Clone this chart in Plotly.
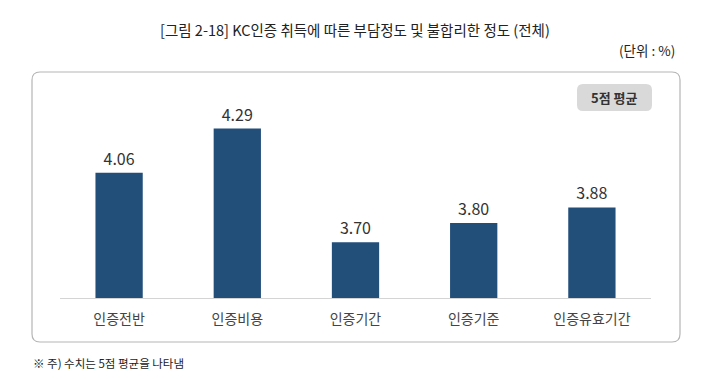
import plotly.graph_objects as go

categories = ["인증전반", "인증비용", "인증기간", "인증기준", "인증유효기간"]
values = [4.06, 4.29, 3.70, 3.80, 3.88]

# page body has an 8px margin; work in reference pixel coords and shift
OFF = 8
W, H = 720 - OFF, 379 - OFF
L, R, T, B = 60 - OFF, 69, 90 - OFF, 81
PW, PH = W - L - R, H - T - B
FONT = "Noto Sans CJK KR"


def px(x):
    return (x - OFF - L) / PW


def py(y):
    return (H - B - (y - OFF)) / PH


def rrect(x0, y0, x1, y1, r):
    rx, ry = r / PW, r / PH
    a, b, c, d = px(x0), py(y1), px(x1), py(y0)
    return (f"M {a+rx},{d} L {c-rx},{d} Q {c},{d} {c},{d-ry} "
            f"L {c},{b+ry} Q {c},{b} {c-rx},{b} L {a+rx},{b} "
            f"Q {a},{b} {a},{b+ry} L {a},{d-ry} Q {a},{d} {a+rx},{d} Z")


fig = go.Figure(go.Bar(
    x=categories, y=values,
    marker=dict(color="#224e7a", line=dict(width=0)),
    width=0.4,
    texttemplate="%{y:.2f}", textposition="outside",
    textfont=dict(family=FONT, size=16, color="#333333"),
    cliponaxis=False,
))

fig.update_layout(
    width=W, height=H,
    margin=dict(l=L, r=R, t=T, b=B),
    paper_bgcolor="white", plot_bgcolor="white",
    showlegend=False,
    xaxis=dict(showline=True, linecolor="#d4d4d4", linewidth=1, ticks="",
               ticklabelstandoff=8,
               tickfont=dict(family=FONT, size=14, color="#444444"),
               showgrid=False, fixedrange=True),
    yaxis=dict(range=[3.41, 4.49], visible=False, showgrid=False),
    shapes=[
        dict(type="path", xref="paper", yref="paper",
             path=rrect(32, 72, 680, 342, 8),
             line=dict(color="#b5b5b5", width=1.2), fillcolor="rgba(0,0,0,0)", layer="below"),
        dict(type="path", xref="paper", yref="paper",
             path=rrect(577, 84, 652, 111, 6),
             line=dict(width=0), fillcolor="#d9d9d9", layer="below"),
    ],
    annotations=[
        dict(text="[그림 2-18] KC인증 취득에 따른 부담정도 및 불합리한 정도 (전체)",
             x=px(355), y=py(30), xref="paper", yref="paper", showarrow=False,
             xanchor="center", yanchor="middle",
             font=dict(family=FONT, size=14.5, color="#222222")),
        dict(text="(단위 : %)", x=px(677), y=py(50), xref="paper", yref="paper",
             showarrow=False, xanchor="right", yanchor="middle",
             font=dict(family=FONT, size=13.5, color="#222222")),
        dict(text="<b>5점 평균</b>", x=px(614.5), y=py(97.5), xref="paper", yref="paper",
             showarrow=False, xanchor="center", yanchor="middle",
             font=dict(family=FONT, size=13, color="#333333")),
        dict(text="※ 주) 수치는 5점 평균을 나타냄", x=px(31), y=py(363),
             xref="paper", yref="paper", showarrow=False,
             xanchor="left", yanchor="middle",
             font=dict(family=FONT, size=11.5, color="#222222")),
    ],
)

fig.write_html("out.html")
